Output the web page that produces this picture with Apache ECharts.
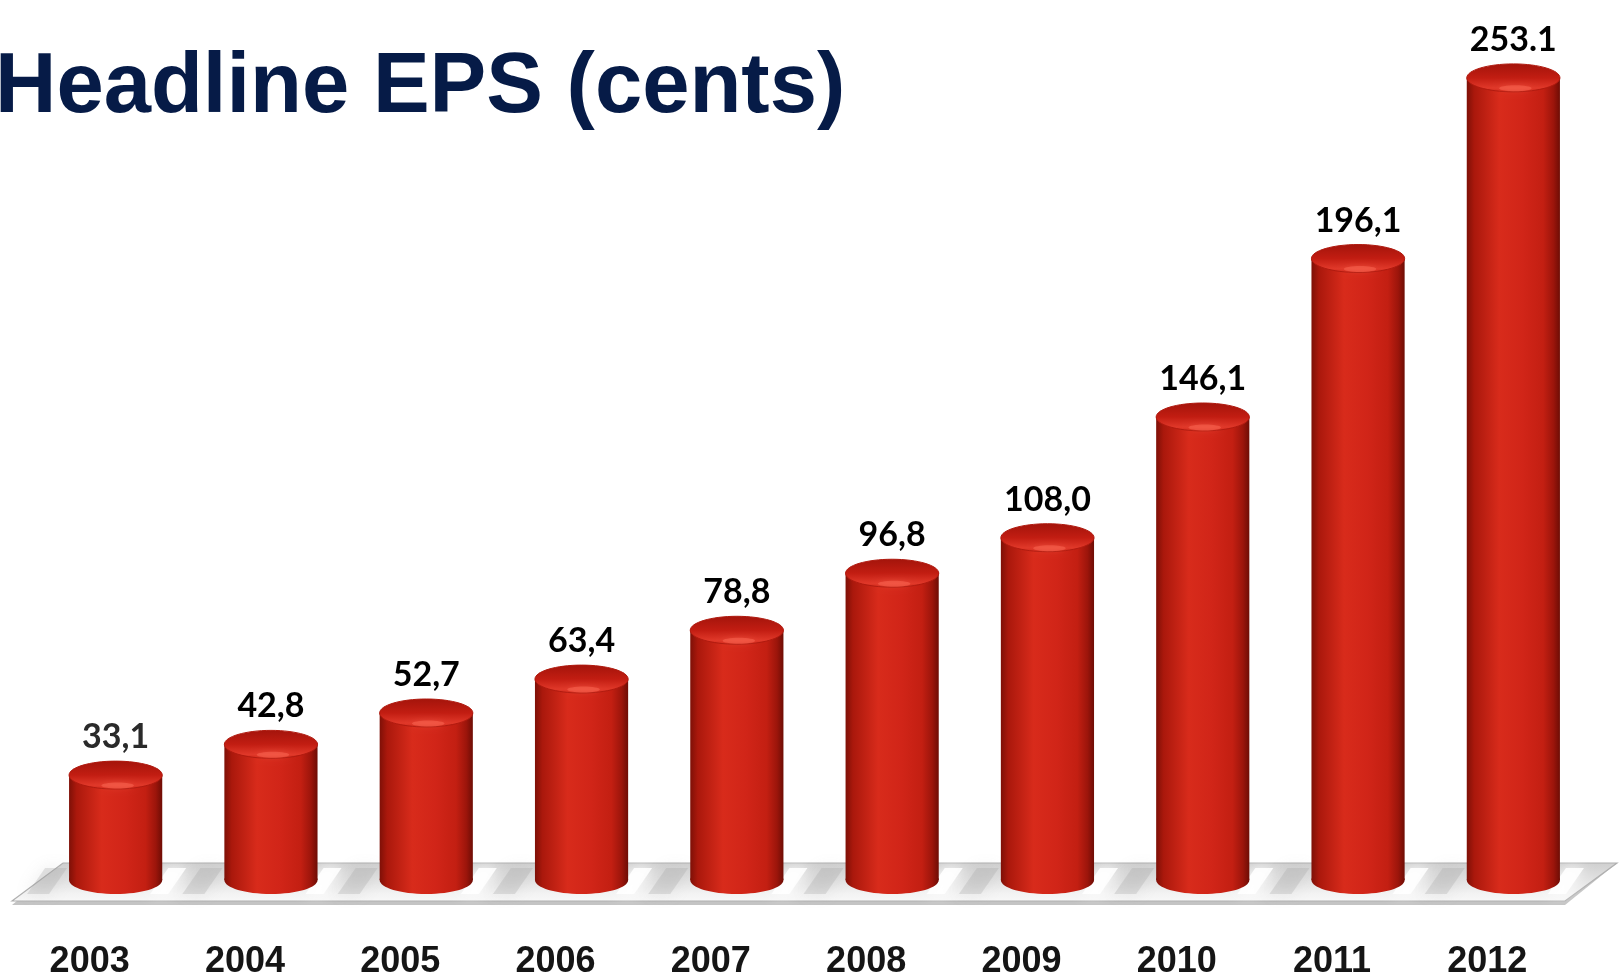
<!DOCTYPE html>
<html>
<head>
<meta charset="utf-8">
<script src="https://cdn.jsdelivr.net/npm/echarts@6/dist/echarts.min.js"></script>
<style>
html,body{margin:0;padding:0;background:#fff;}
#chart{width:1620px;height:974px;}
</style>
</head>
<body>
<div id="chart"></div>
<script>
const years = ['2003','2004','2005','2006','2007','2008','2009','2010','2011','2012'];
const eps = [33.1, 42.8, 52.7, 63.4, 78.8, 96.8, 108.0, 146.1, 196.1, 253.1];
const epsLabels = ['33,1','42,8','52,7','63,4','78,8','96,8','108,0','146,1','196,1','253.1'];
const titleText = 'Headline EPS (cents)';

const chart = echarts.init(document.getElementById('chart'), null, {renderer:'canvas'});

const bodyGrad = new echarts.graphic.LinearGradient(0,0,1,0,[
  {offset:0, color:'#7e1007'},
  {offset:0.08, color:'#aa180c'},
  {offset:0.35, color:'#d82b1b'},
  {offset:0.6, color:'#d12518'},
  {offset:0.82, color:'#c31f12'},
  {offset:0.93, color:'#9c150b'},
  {offset:1, color:'#6e0d05'}
]);
const capGrad = new echarts.graphic.LinearGradient(0,0,0,1,[
  {offset:0, color:'#a3140b'},
  {offset:0.5, color:'#c21d12'},
  {offset:0.85, color:'#e03829'},
  {offset:1, color:'#d02719'}
]);

function renderBar(params, api){
  const idx = api.value(0);
  const base = api.coord([idx, 0]);
  const top = api.coord([idx, api.value(1)]);
  const w = api.size([1,0])[0]*0.6;
  const half = w/2, ry = w*0.15;
  const cx = base[0];
  return {
    type:'group',
    children:[
      {type:'ellipse', shape:{cx:cx, cy:base[1], rx:half, ry:ry}, style:{fill:bodyGrad}},
      {type:'rect', shape:{x:cx-half, y:top[1], width:w, height:base[1]-top[1]}, style:{fill:bodyGrad}},
      {type:'ellipse', shape:{cx:cx, cy:top[1], rx:half, ry:ry}, style:{fill:capGrad, stroke:'#b01a0f', lineWidth:1}},
      {type:'ellipse', shape:{cx:cx+2, cy:top[1]+ry*0.75, rx:half*0.35, ry:3}, style:{fill:'rgba(255,110,90,0.45)', shadowBlur:6, shadowColor:'rgba(255,110,90,0.6)'}},
      {type:'text', x:cx, y:top[1]-ry-24, style:{text:epsLabels[params.dataIndex], fill: params.dataIndex===0 ? '#2a2a2a' : '#000', font:'bold 34px Lato', align:'center', verticalAlign:'middle'}}
    ]
  };
}

function renderFloor(params, api){
  if (params.dataIndex !== 0) return {type:'group', children:[]};
  const cs = params.coordSys;
  const zero = api.coord([0,0])[1];
  const left = cs.x, right = cs.x + cs.width;
  const backY = zero - 17, frontY = zero + 21;
  const children = [];
  children.push({type:'polygon', shape:{points:[[left-26,frontY+4],[left+25,backY],[right+26,backY],[right-26,frontY+4]]},
    style:{fill:'#c4c4c4'}});
  children.push({type:'polygon', shape:{points:[[left-26,frontY],[left+25,backY],[right+26,backY],[right-26,frontY]]},
    style:{fill:new echarts.graphic.LinearGradient(0,0,0,1,[{offset:0,color:'#cfcfcf'},{offset:0.45,color:'#e2e2e2'},{offset:0.8,color:'#f3f3f3'},{offset:1,color:'#f8f8f8'}]), stroke:'#b0b0b0', lineWidth:1.2}});
  const w = api.size([1,0])[0]*0.6;
  for (let i=0;i<years.length;i++){
    const c = api.coord([i,0])[0];
    const gl = c - w/2, gr = c + w/2;
    children.push({type:'polygon', shape:{points:[[gr+6,backY+5],[gr+24,backY+5],[gr+6,frontY-7],[gr-12,frontY-7]]},
      style:{fill:'rgba(255,255,255,0.9)', shadowBlur:14, shadowColor:'rgba(255,255,255,1)'}});
    children.push({type:'polygon', shape:{points:[[gl-24,backY+5],[gl-2,backY+5],[gl-20,frontY-7],[gl-42,frontY-7]]},
      style:{fill:'rgba(160,160,160,0.28)', shadowBlur:16, shadowColor:'rgba(150,150,150,0.6)'}});
  }
  return {type:'group', children:children};
}

chart.setOption({
  animation:false,
  backgroundColor:'#ffffff',
  grid:{left:38, right:29, top:56, bottom:94, containLabel:false, outerBoundsMode:'none'},
  xAxis:{type:'category', data:years, axisLine:{show:false}, axisTick:{show:false}, splitLine:{show:false},
    axisLabel:{margin:64, fontSize:36, fontWeight:'bold', fontFamily:'Liberation Sans', color:'#151515', padding:[0,52,0,0]}},
  yAxis:{type:'value', min:0, max:260, show:false, splitLine:{show:false}},
  graphic:[{type:'text', left:-5, top:46, style:{text:titleText, font:'bold 85px "Liberation Sans"', fill:'#061b47'}}],
  series:[
    {type:'custom', z:1, renderItem:renderFloor, data:years.map((y,i)=>[i,0]), silent:true},
    {type:'custom', z:2, renderItem:renderBar, data:eps.map((v,i)=>[i,v])}
  ]
});
</script>
</body>
</html>
